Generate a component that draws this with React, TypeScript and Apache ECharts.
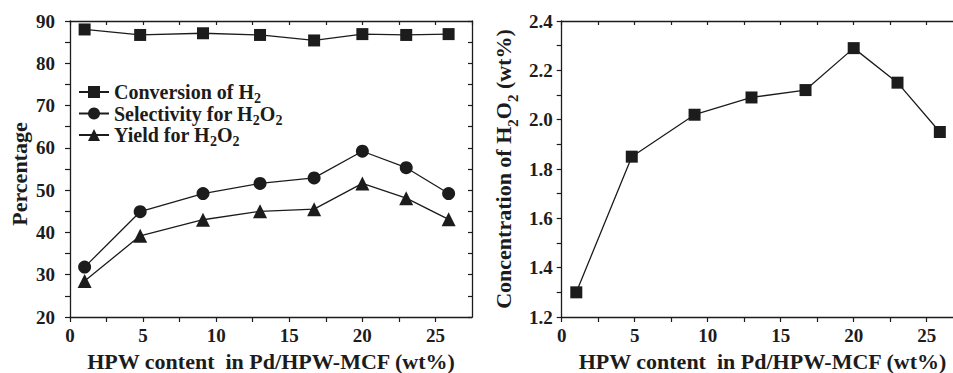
import React, { useEffect, useRef } from "react";
import * as echarts from "echarts";

// ---- data ----
const hpwContent = [1, 4.8, 9.1, 13, 16.7, 20, 23, 25.9];
const conversionH2 = [88.0, 86.7, 87.1, 86.7, 85.4, 86.9, 86.7, 86.9];
const selectivityH2O2 = [31.8, 44.9, 49.2, 51.6, 52.9, 59.2, 55.3, 49.2];
const yieldH2O2 = [28.5, 39.2, 43.0, 45.0, 45.5, 51.6, 48.1, 43.1];
const concentrationH2O2 = [1.3, 1.85, 2.02, 2.09, 2.12, 2.29, 2.15, 1.95];

const seriesNames = ["Conversion of H2", "Selectivity for H2O2", "Yield for H2O2"];
const legendRich: Record<string, string> = {
  "Conversion of H2": "{n|Conversion of H}{s|2}",
  "Selectivity for H2O2": "{n|Selectivity for H}{s|2}{n|O}{s|2}",
  "Yield for H2O2": "{n|Yield for H}{s|2}{n|O}{s|2}",
};

const FONT = '"Liberation Serif", "Times New Roman", serif';
const INK = "#1c1c1c";

const pairs = (ys: number[]) => hpwContent.map((x, i) => [x, ys[i]]);

const richStyles = (size: number, lh: number) => ({
  n: { fontSize: size, fontWeight: "bold", fontFamily: FONT, color: INK, lineHeight: lh },
  s: {
    fontSize: Math.round(size * 0.68),
    fontWeight: "bold",
    fontFamily: FONT,
    color: INK,
    lineHeight: Math.round(size * 0.68),
    verticalAlign: "bottom",
    padding: [0, 0, -5, 0],
  },
});

function bottomX(gridIndex: number) {
  return {
    type: "value",
    gridIndex,
    position: "bottom",
    min: 0,
    max: 27.5,
    interval: 2.5,
    axisLine: { onZero: false, lineStyle: { color: INK, width: 1.3 } },
    axisTick: { inside: false, length: 5, lineStyle: { color: INK, width: 1.2 } },
    axisLabel: {
      formatter: (v: number) => (Math.abs(v % 5) < 1e-6 ? String(v) : ""),
      color: INK,
      fontSize: 19,
      fontWeight: "bold",
      fontFamily: FONT,
      margin: 9,
      showMaxLabel: false,
    },
    splitLine: { show: false },
    name: "HPW content  in Pd/HPW-MCF (wt%)",
    nameLocation: "middle",
    nameGap: 33,
    nameTextStyle: { fontSize: 22, fontWeight: "bold", fontFamily: FONT, color: INK, lineHeight: 22 },
  };
}

function topX(gridIndex: number) {
  return {
    type: "value",
    gridIndex,
    position: "top",
    min: 0,
    max: 27.5,
    interval: 2.5,
    axisLine: { onZero: false, lineStyle: { color: INK, width: 1.3 } },
    axisTick: { inside: true, length: 4, lineStyle: { color: INK, width: 1.2 } },
    axisLabel: { show: false },
    splitLine: { show: false },
  };
}

export default function App() {
  const ref = useRef<HTMLDivElement>(null);
  useEffect(() => {
    if (!ref.current) return;
    const chart = echarts.init(ref.current, undefined, { renderer: "svg" });
    const lineStyle = { color: INK, width: 1.3 };
    chart.setOption({
      animation: false,
      backgroundColor: "#ffffff",
      grid: [
        { left: 70, top: 21, width: 402, height: 296, outerBoundsMode: "none", containLabel: false },
        { left: 561.7, top: 21, width: 401.5, height: 296, outerBoundsMode: "none", containLabel: false },
      ],
      legend: {
        data: seriesNames,
        orient: "vertical",
        left: 73,
        top: 77,
        itemWidth: 30,
        itemHeight: 15,
        itemGap: -2,
        formatter: (name: string) => legendRich[name],
        textStyle: { rich: richStyles(20, 17) },
      },
      xAxis: [bottomX(0), topX(0), bottomX(1), topX(1)],
      yAxis: [
        {
          type: "value",
          gridIndex: 0,
          position: "left",
          min: 20,
          max: 90,
          interval: 5,
          axisLine: { onZero: false, lineStyle: { color: INK, width: 1.3 } },
          axisTick: { inside: false, length: 5, lineStyle: { color: INK, width: 1.2 } },
          axisLabel: {
            formatter: (v: number) => (Math.abs(v % 10) < 1e-6 ? String(v) : ""),
            color: INK,
            fontSize: 19,
            fontWeight: "bold",
            fontFamily: FONT,
            margin: 15,
          },
          splitLine: { show: false },
          name: "Percentage",
          nameLocation: "middle",
          nameGap: 40,
          nameTextStyle: {
            fontSize: 22,
            fontWeight: "bold",
            fontFamily: FONT,
            color: INK,
            padding: [0, 0, 0, -10],
          },
        },
        {
          type: "value",
          gridIndex: 0,
          position: "right",
          min: 20,
          max: 90,
          interval: 5,
          axisLine: { onZero: false, lineStyle: { color: INK, width: 1.3 } },
          axisTick: { inside: true, length: 4, lineStyle: { color: INK, width: 1.2 } },
          axisLabel: { show: false },
          splitLine: { show: false },
        },
        {
          type: "value",
          gridIndex: 1,
          position: "left",
          min: 1.2,
          max: 2.4,
          interval: 0.1,
          axisLine: { onZero: false, lineStyle: { color: INK, width: 1.3 } },
          axisTick: { inside: false, length: 5, lineStyle: { color: INK, width: 1.2 } },
          axisLabel: {
            formatter: (v: number) => (Math.round(v * 10) % 2 === 0 ? v.toFixed(1) : ""),
            color: INK,
            fontSize: 19,
            fontWeight: "bold",
            fontFamily: FONT,
            margin: 9,
          },
          splitLine: { show: false },
          name: "{n|Concentration of H}{s|2}{n|O}{s|2}{n| (wt%)}",
          nameLocation: "middle",
          nameGap: 46,
          nameTextStyle: { rich: richStyles(22, 24) },
        },
      ],
      series: [
        {
          name: seriesNames[0],
          type: "line",
          xAxisIndex: 0,
          yAxisIndex: 0,
          data: pairs(conversionH2),
          symbol: "rect",
          symbolSize: 12,
          itemStyle: { color: INK },
          lineStyle,
        },
        {
          name: seriesNames[1],
          type: "line",
          xAxisIndex: 0,
          yAxisIndex: 0,
          data: pairs(selectivityH2O2),
          symbol: "circle",
          symbolSize: 13,
          itemStyle: { color: INK },
          lineStyle,
        },
        {
          name: seriesNames[2],
          type: "line",
          xAxisIndex: 0,
          yAxisIndex: 0,
          data: pairs(yieldH2O2),
          symbol: "triangle",
          symbolSize: 14,
          itemStyle: { color: INK },
          lineStyle,
        },
        {
          name: "Concentration of H2O2",
          type: "line",
          xAxisIndex: 2,
          yAxisIndex: 2,
          data: pairs(concentrationH2O2),
          symbol: "rect",
          symbolSize: 12,
          itemStyle: { color: INK },
          lineStyle,
        },
      ],
    });
    return () => chart.dispose();
  }, []);
  return (
    <div
      ref={ref}
      style={{ position: "absolute", left: 0, top: 0, width: 953, height: 373, background: "#fff" }}
    />
  );
}
